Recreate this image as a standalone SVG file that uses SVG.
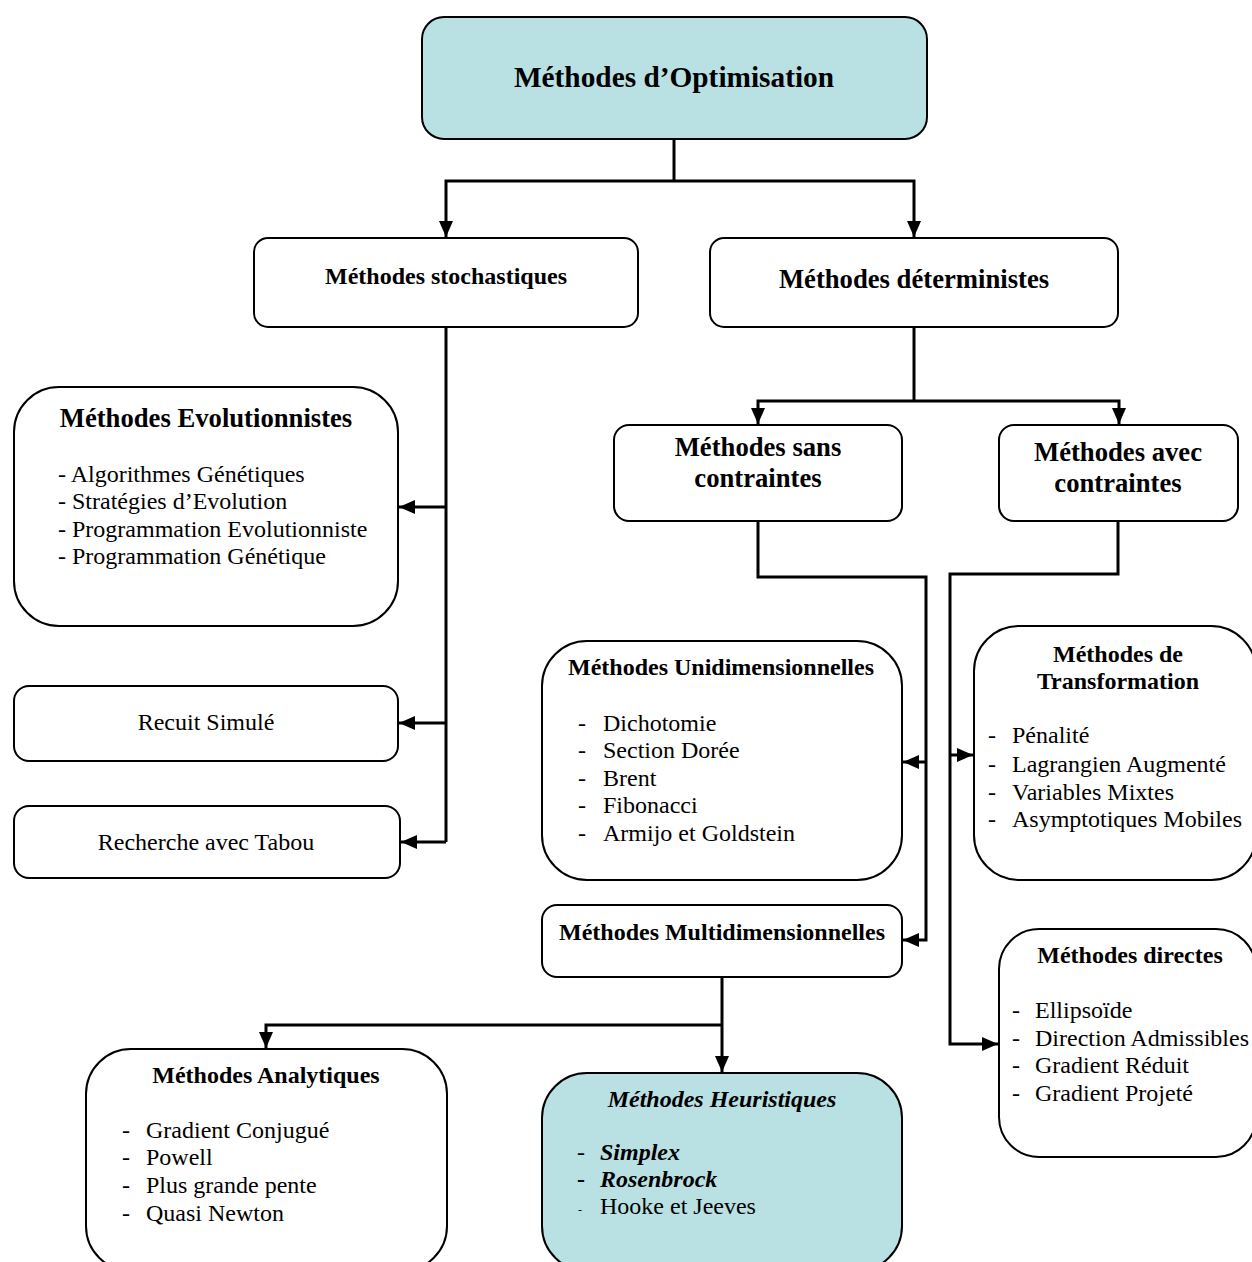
<svg xmlns="http://www.w3.org/2000/svg" width="1252" height="1262" viewBox="0 0 1252 1262">
<defs>
<style>
.box{fill:#ffffff;stroke:#000;stroke-width:2}
.cyan{fill:#b9e0e3}
.t{font-family:"Liberation Serif","Times New Roman",serif;font-size:24px;fill:#000}
.b{font-weight:bold}
.c{text-anchor:middle}
.big{font-size:26.67px}
.huge{font-size:29.33px}
.i{font-style:italic}
.con path{fill:none;stroke:#000;stroke-width:3}
</style>
<marker id="ah" markerUnits="userSpaceOnUse" markerWidth="16" markerHeight="14" refX="16" refY="7" orient="auto">
<path d="M0,0 L16,7 L0,14 z" fill="#000"/>
</marker>
</defs>
<rect width="1252" height="1262" fill="#fff"/>

<g id="connectors" class="con">
<path d="M674 139 V181"/>
<path d="M674 181 H446 V237" marker-end="url(#ah)"/>
<path d="M674 181 H914 V237" marker-end="url(#ah)"/>
<path d="M446 327 V842"/>
<path d="M446 507 H399" marker-end="url(#ah)"/>
<path d="M446 723 H399" marker-end="url(#ah)"/>
<path d="M446 842 H401" marker-end="url(#ah)"/>
<path d="M914 327 V401"/>
<path d="M914 401 H758 V424" marker-end="url(#ah)"/>
<path d="M914 401 H1119 V424" marker-end="url(#ah)"/>
<path d="M758 521 V577 H926 V940 H903" marker-end="url(#ah)"/>
<path d="M926 762 H903" marker-end="url(#ah)"/>
<path d="M1118 521 V574 H950 V1044 H998" marker-end="url(#ah)"/>
<path d="M950 755 H973" marker-end="url(#ah)"/>
<path d="M722 977 V1072" marker-end="url(#ah)"/>
<path d="M722 1025 H266 V1048" marker-end="url(#ah)"/>
</g>

<g id="optimisation">
<rect class="box cyan" x="422" y="17" width="505" height="122" rx="22"/>
<text class="t b huge c" x="674" y="87">Méthodes d’Optimisation</text>
</g>

<g id="stochastiques">
<rect class="box" x="254" y="238" width="384" height="89" rx="14"/>
<text class="t b c" x="446" y="284">Méthodes stochastiques</text>
</g>

<g id="deterministes">
<rect class="box" x="710" y="238" width="408" height="89" rx="14"/>
<text class="t b big c" x="914" y="288">Méthodes déterministes</text>
</g>

<g id="evolutionnistes">
<rect class="box" x="14" y="387" width="384" height="239" rx="45"/>
<text class="t b big c" x="206" y="427">Méthodes Evolutionnistes</text>
<text class="t" x="58" y="482">- Algorithmes Génétiques</text>
<text class="t" x="58" y="509">- Stratégies d’Evolution</text>
<text class="t" x="58" y="537">- Programmation Evolutionniste</text>
<text class="t" x="58" y="564">- Programmation Génétique</text>
</g>

<g id="recuit">
<rect class="box" x="14" y="686" width="384" height="75" rx="15"/>
<text class="t c" x="206" y="730">Recuit Simulé</text>
</g>

<g id="tabou">
<rect class="box" x="14" y="806" width="386" height="72" rx="15"/>
<text class="t c" x="206" y="850">Recherche avec Tabou</text>
</g>

<g id="sans-contraintes">
<rect class="box" x="614" y="425" width="288" height="96" rx="15"/>
<text class="t b big c" x="758" y="456">Méthodes sans</text>
<text class="t b big c" x="758" y="487">contraintes</text>
</g>

<g id="avec-contraintes">
<rect class="box" x="999" y="425" width="239" height="96" rx="15"/>
<text class="t b big c" x="1118" y="461">Méthodes avec</text>
<text class="t b big c" x="1118" y="492">contraintes</text>
</g>

<g id="unidimensionnelles">
<rect class="box" x="542" y="641" width="360" height="239" rx="45"/>
<text class="t b c" x="721" y="675">Méthodes Unidimensionnelles</text>
<text class="t" x="578" y="731">-</text><text class="t" x="603" y="731">Dichotomie</text>
<text class="t" x="578" y="758">-</text><text class="t" x="603" y="758">Section Dorée</text>
<text class="t" x="578" y="786">-</text><text class="t" x="603" y="786">Brent</text>
<text class="t" x="578" y="813">-</text><text class="t" x="603" y="813">Fibonacci</text>
<text class="t" x="578" y="841">-</text><text class="t" x="603" y="841">Armijo et Goldstein</text>
</g>

<g id="transformation">
<rect class="box" x="974" y="626" width="282" height="254" rx="45"/>
<text class="t b c" x="1118" y="662">Méthodes de</text>
<text class="t b c" x="1118" y="689">Transformation</text>
<text class="t" x="988" y="743">-</text><text class="t" x="1012" y="743">Pénalité</text>
<text class="t" x="988" y="772">-</text><text class="t" x="1012" y="772">Lagrangien Augmenté</text>
<text class="t" x="988" y="800">-</text><text class="t" x="1012" y="800">Variables Mixtes</text>
<text class="t" x="988" y="827">-</text><text class="t" x="1012" y="827">Asymptotiques Mobiles</text>
</g>

<g id="multidimensionnelles">
<rect class="box" x="542" y="905" width="360" height="72" rx="15"/>
<text class="t b c" x="722" y="940">Méthodes Multidimensionnelles</text>
</g>

<g id="directes">
<rect class="box" x="999" y="929" width="257" height="228" rx="40"/>
<text class="t b c" x="1130" y="963">Méthodes directes</text>
<text class="t" x="1012" y="1018">-</text><text class="t" x="1035" y="1018">Ellipsoïde</text>
<text class="t" x="1012" y="1046">-</text><text class="t" x="1035" y="1046">Direction Admissibles</text>
<text class="t" x="1012" y="1073">-</text><text class="t" x="1035" y="1073">Gradient Réduit</text>
<text class="t" x="1012" y="1101">-</text><text class="t" x="1035" y="1101">Gradient Projeté</text>
</g>

<g id="analytiques">
<rect class="box" x="86" y="1049" width="361" height="222" rx="45"/>
<text class="t b c" x="266" y="1083">Méthodes Analytiques</text>
<text class="t" x="122" y="1138">-</text><text class="t" x="146" y="1138">Gradient Conjugué</text>
<text class="t" x="122" y="1165">-</text><text class="t" x="146" y="1165">Powell</text>
<text class="t" x="122" y="1193">-</text><text class="t" x="146" y="1193">Plus grande pente</text>
<text class="t" x="122" y="1221">-</text><text class="t" x="146" y="1221">Quasi Newton</text>
</g>

<g id="heuristiques">
<rect class="box cyan" x="542" y="1073" width="360" height="198" rx="45"/>
<text class="t b i c" x="722" y="1107">Méthodes Heuristiques</text>
<text class="t" x="577" y="1160">-</text><text class="t b i" x="600" y="1160">Simplex</text>
<text class="t b" x="577" y="1187">-</text><text class="t b i" x="600" y="1187">Rosenbrock</text>
<text class="t" x="578" y="1214" style="font-size:12px">-</text><text class="t" x="600" y="1214">Hooke et Jeeves</text>
</g>
</svg>
